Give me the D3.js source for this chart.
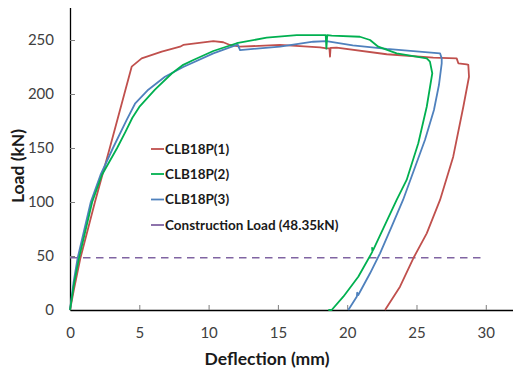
<!DOCTYPE html>
<html>
<head>
<meta charset="utf-8">
<script src="https://cdn.jsdelivr.net/npm/d3@7"></script>
<style>
  body { margin: 0; background: #fff; }
  svg { display: block; font-family: Lato, "Open Sans", sans-serif; }
</style>
</head>
<body>
<div id="chart"></div>
<script>
// deflection (mm) / load (kN) pairs
const clb1 = [
  [0, 0], [0.3, 20], [0.75, 48], [1.8, 100], [2.87, 150], [3.92, 200],
  [4.45, 225.3], [5.17, 233], [6.62, 239.2], [7.94, 243.8], [8.17, 245.4], [10.34, 249],
  [11.06, 247.9], [11.54, 245.4], [12.27, 243.8], [15.15, 245.4], [18.04, 243.2],
  [18.52, 242.3], [18.72, 242.3], [18.76, 234.6], [18.8, 242.8], [19.24, 242.9],
  [22.85, 236.8], [26.21, 233.6], [27.9, 233], [28.02, 228.4], [28.62, 227.5],
  [28.74, 226.9], [28.79, 216], [28.38, 188.2], [27.65, 142], [26.7, 101.9],
  [25.74, 71], [24.77, 47.9], [23.81, 21.6], [22.73, 0]
];
const clb2 = [
  [0, 0], [0.3, 25], [0.65, 48], [1.6, 100], [2.3, 125], [3.4, 150], [4.0, 165], [4.5, 178],
  [5.0, 188], [6.13, 204], [7.34, 219], [8.17, 227], [8.9, 231.5], [10.34, 239.8],
  [12.03, 247], [14.19, 252.2], [16.36, 254.6], [18.45, 254.6], [18.5, 242],
  [18.56, 254.6], [18.88, 254], [20.92, 253], [21.65, 250], [22.24, 243.8],
  [23.57, 237.7], [25.74, 233], [25.97, 230], [26.14, 219.2], [25.74, 188.2],
  [25.13, 154.4], [24.29, 120.4], [23.57, 101.9], [21.88, 55.6], [21.8, 57.5],
  [21.82, 54], [20.8, 30.8], [19.72, 12.3], [18.88, 0], [18.64, 0]
];
const clb3 = [
  [0, 0], [0.25, 25], [0.55, 48], [1.5, 100], [2.2, 125], [3.1, 150], [4.09, 176], [4.69, 191],
  [5.65, 204], [6.85, 216], [8.17, 225], [10.34, 237.6], [12.03, 245.4], [12.1, 245.8],
  [12.27, 240.7], [15.15, 243.8], [17.55, 248.4], [18.5, 249], [20.4, 245],
  [22.85, 241.7], [26.7, 237.7], [26.82, 233], [26.82, 228.4], [26.62, 208.3],
  [26.26, 185.2], [25.61, 157.4], [24.82, 129.6], [24.03, 101.9], [23.23, 77.8],
  [22.37, 52.5], [21.65, 34], [20.8, 13.9], [20.72, 16], [20.7, 12.5], [20.08, 0]
];
const constructionLoad = 48.35;
const constructionSpan = [0, 30];

const seriesNames = ['CLB18P(1)', 'CLB18P(2)', 'CLB18P(3)', 'Construction Load (48.35kN)'];
const seriesColors = ['#C0504D', '#00B050', '#4F81BD', '#8064A2'];
const xTicks = [0, 5, 10, 15, 20, 25, 30];
const yTicks = [0, 50, 100, 150, 200, 250];

const width = 513, height = 371;
const plot = { left: 70, right: 513.5, top: 7.6, bottom: 310 };

const svg = d3.select('#chart')
  .append('svg')
  .attr('width', width)
  .attr('height', height);

const x = d3.scaleLinear().domain([0, 32]).range([plot.left, plot.right]);
const y = d3.scaleLinear().domain([0, 280]).range([plot.bottom, plot.top]);

// axes, ticks pointing inwards
const xAxis = svg.append('g')
  .attr('transform', `translate(0,${plot.bottom})`)
  .call(d3.axisBottom(x).tickValues(xTicks).tickSize(-5).tickPadding(17).tickSizeOuter(0));
const yAxis = svg.append('g')
  .attr('transform', `translate(${plot.left},0)`)
  .call(d3.axisLeft(y).tickValues(yTicks).tickSize(-5).tickPadding(16).tickSizeOuter(0));

[xAxis, yAxis].forEach(ax => {
  ax.select('.domain').attr('stroke', '#000').attr('stroke-width', 1.3);
  ax.selectAll('.tick line').attr('stroke', '#7f7f7f').attr('stroke-width', 1);
  ax.selectAll('.tick text')
    .attr('fill', '#404040')
    .style('font-size', '15px')
    .style('font-family', 'Lato, sans-serif');
});
xAxis.selectAll('.tick').filter(d => d === 0).select('line').remove();
yAxis.selectAll('.tick').filter(d => d === 0).select('line').remove();

// axis titles
svg.append('text')
  .attr('x', 267)
  .attr('y', 365)
  .attr('text-anchor', 'middle')
  .style('font-size', '17.5px')
  .style('font-weight', 'bold')
  .attr('fill', '#1a1a1a')
  .text('Deflection (mm)');

svg.append('text')
  .attr('transform', 'translate(24,166) rotate(-90)')
  .attr('text-anchor', 'middle')
  .style('font-size', '17.5px')
  .style('font-weight', 'bold')
  .attr('fill', '#1a1a1a')
  .text('Load (kN)');

// construction load reference line
svg.append('line')
  .attr('x1', x(constructionSpan[0]))
  .attr('x2', x(constructionSpan[1]))
  .attr('y1', y(constructionLoad))
  .attr('y2', y(constructionLoad))
  .attr('stroke', seriesColors[3])
  .attr('stroke-width', 1.5)
  .attr('stroke-dasharray', '7.5,5.5');

const line = d3.line()
  .x(d => x(d[0]))
  .y(d => y(d[1]))
  .curve(d3.curveLinear);

// draw order: red, blue, green on top like the original
[[clb1, 0], [clb3, 2], [clb2, 1]].forEach(([data, i]) => {
  svg.append('path')
    .datum(data)
    .attr('d', line)
    .attr('fill', 'none')
    .attr('stroke', seriesColors[i])
    .attr('stroke-width', 1.8)
    .attr('stroke-linejoin', 'round');
});

// legend
const legendY = [149, 174, 199.5, 225];
const legend = svg.append('g').attr('class', 'legend');
seriesNames.forEach((name, i) => {
  legend.append('line')
    .attr('x1', 151).attr('x2', 164)
    .attr('y1', legendY[i]).attr('y2', legendY[i])
    .attr('stroke', seriesColors[i])
    .attr('stroke-width', 1.8);
  legend.append('text')
    .attr('x', 165)
    .attr('y', legendY[i])
    .attr('dy', '0.36em')
    .style('font-size', '13.5px')
    .style('font-weight', 'bold')
    .attr('fill', '#1a1a1a')
    .text(name);
});
</script>
</body>
</html>
